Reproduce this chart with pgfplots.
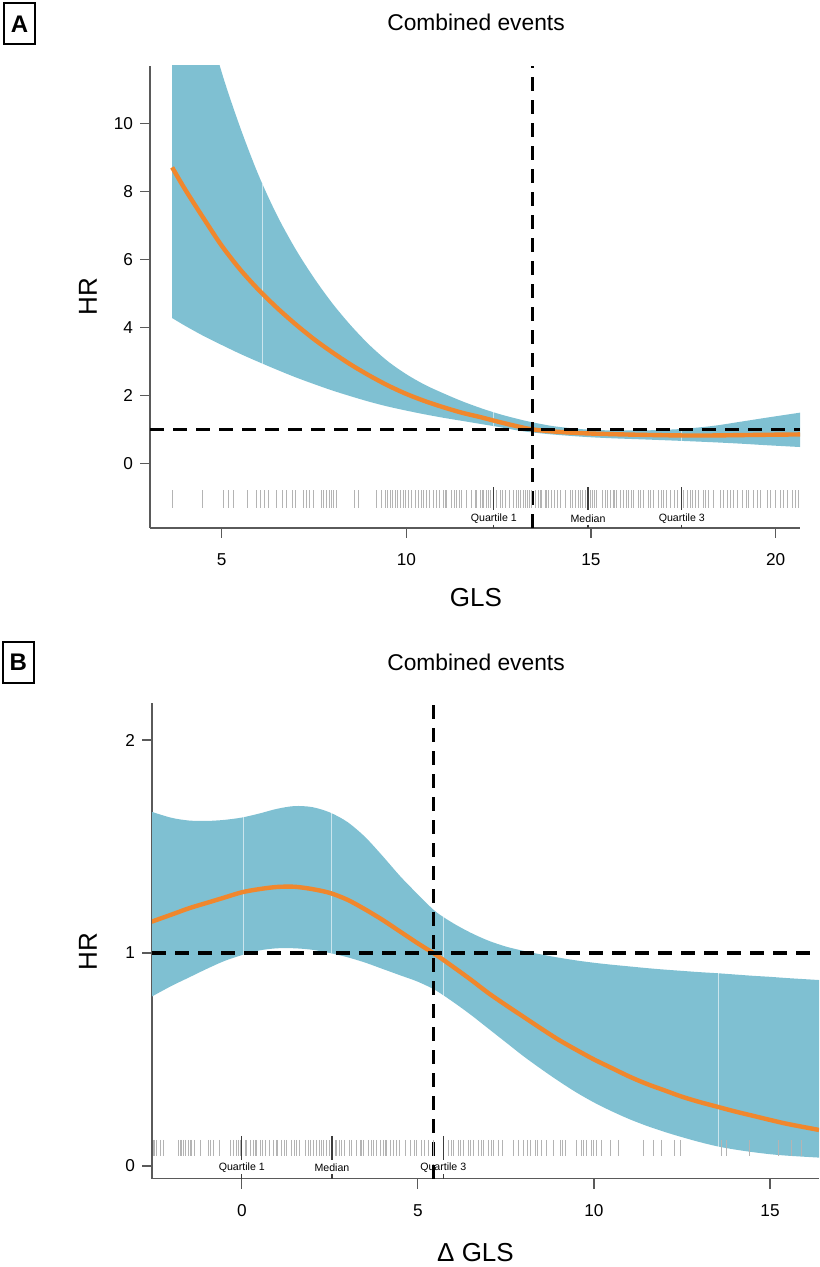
\documentclass[border=0pt]{standalone}
\usepackage{fontspec}
\setmainfont{Liberation Sans}
\usepackage{pgfplots}
\pgfplotsset{compat=1.18}
\usepackage{pgfplotstable}
\usepgfplotslibrary{fillbetween}

\definecolor{bandblue}{RGB}{127,192,210}
\definecolor{hrorange}{RGB}{240,135,45}
\definecolor{axgray}{RGB}{90,90,90}
\definecolor{ruggray}{RGB}{180,180,180}
\definecolor{qgray}{RGB}{60,60,60}

% panel A: estimate and 95% band
\pgfplotstableread{
x est lo hi
3.66 8.70 4.27 17.7
4.0 8.07 4.05 15.9
4.5 7.22 3.75 13.5
5.0 6.40 3.48 11.5
5.5 5.70 3.22 9.88
6.0 5.10 2.98 8.47
6.5 4.57 2.75 7.29
7.0 4.09 2.53 6.30
7.5 3.65 2.33 5.45
8.0 3.26 2.14 4.70
8.5 2.90 1.97 4.05
9.0 2.58 1.81 3.48
9.5 2.29 1.67 3.00
10.0 2.04 1.55 2.62
10.5 1.83 1.44 2.31
11.0 1.65 1.34 2.06
11.5 1.49 1.25 1.83
12.0 1.36 1.16 1.63
12.5 1.22 1.07 1.455
13.0 1.09 0.97 1.31
13.4 1.00 0.91 1.21
14.0 0.935 0.845 1.09
14.8 0.885 0.78 1.00
15.5 0.86 0.74 0.97
16.5 0.835 0.70 0.97
17.45 0.82 0.66 1.01
18.3 0.82 0.62 1.10
19.03 0.83 0.58 1.22
19.8 0.84 0.53 1.35
20.66 0.85 0.48 1.49
}\curveA

% panel B
\pgfplotstableread{
x est lo hi
-2.56 1.147 0.795 1.663
-2.0 1.18 0.845 1.635
-1.5 1.21 0.885 1.622
-1.0 1.235 0.925 1.620
-0.5 1.26 0.962 1.625
0.0 1.285 0.99 1.636
0.5 1.30 1.012 1.655
1.0 1.31 1.022 1.677
1.5 1.311 1.022 1.690
2.0 1.30 1.015 1.685
2.5 1.282 1.000 1.660
3.0 1.25 0.980 1.615
3.5 1.205 0.955 1.545
4.0 1.155 0.925 1.455
4.5 1.10 0.895 1.360
5.0 1.045 0.865 1.275
5.5 0.993 0.825 1.195
6.0 0.935 0.770 1.140
6.5 0.875 0.710 1.095
7.0 0.812 0.645 1.058
7.5 0.755 0.580 1.030
8.0 0.70 0.515 1.010
8.5 0.645 0.455 0.993
9.0 0.592 0.398 0.978
9.5 0.545 0.345 0.965
10.0 0.50 0.298 0.954
10.5 0.46 0.257 0.945
11.0 0.42 0.220 0.937
11.5 0.385 0.188 0.929
12.0 0.355 0.160 0.922
12.5 0.325 0.135 0.916
13.0 0.30 0.112 0.910
13.5 0.278 0.092 0.905
14.0 0.256 0.077 0.899
14.5 0.236 0.065 0.893
15.0 0.216 0.055 0.888
15.5 0.197 0.048 0.882
16.39 0.169 0.039 0.873
}\curveB

% rug of observed GLS values
\pgfplotstableread{
x
3.67
4.48
5.04
5.18
5.32
5.70
5.95
6.06
6.16
6.26
6.49
6.65
6.76
6.92
6.99
7.21
7.30
7.39
7.48
7.71
7.77
7.84
7.92
7.98
8.04
8.12
8.61
8.70
9.18
9.33
9.43
9.49
9.56
9.63
9.70
9.77
9.83
9.92
9.99
10.06
10.15
10.24
10.33
10.40
10.46
10.55
10.64
10.73
10.82
10.91
11.01
11.05
11.10
11.21
11.30
11.37
11.45
11.50
11.64
11.77
11.86
11.91
12.00
12.05
12.09
12.18
12.22
12.27
12.45
12.54
12.60
12.68
12.80
12.90
12.99
13.03
13.08
13.17
13.22
13.27
13.33
13.40
13.49
13.58
13.62
13.67
13.76
13.80
13.85
13.94
14.00
14.10
14.17
14.30
14.44
14.50
14.57
14.67
14.72
14.76
14.85
14.98
15.03
15.10
15.16
15.30
15.39
15.45
15.52
15.61
15.65
15.70
15.79
15.88
15.95
16.02
16.10
16.16
16.29
16.35
16.43
16.56
16.62
16.70
16.83
16.90
16.97
17.05
17.15
17.25
17.33
17.50
17.60
17.69
17.75
17.83
17.92
18.05
18.10
18.19
18.32
18.50
18.60
18.70
18.78
18.87
18.96
19.09
19.20
19.27
19.41
19.50
19.59
19.77
19.85
19.99
20.13
20.20
20.31
20.45
20.55
20.63
}\rugA

% rug of observed delta GLS values
\pgfplotstableread{
x
-2.51
-2.47
-2.41
-2.32
-2.22
-1.80
-1.75
-1.70
-1.65
-1.61
-1.52
-1.47
-1.42
-1.33
-1.18
-0.95
-0.90
-0.81
-0.62
-0.33
-0.24
-0.14
-0.10
-0.05
0.10
0.14
0.24
0.33
0.38
0.42
0.52
0.60
0.66
0.80
0.90
0.99
1.00
1.13
1.20
1.28
1.42
1.50
1.56
1.65
1.80
1.89
1.95
2.03
2.13
2.22
2.27
2.32
2.41
2.50
2.65
2.70
2.78
2.84
2.93
3.05
3.12
3.26
3.36
3.40
3.45
3.60
3.69
3.75
3.83
3.93
4.02
4.07
4.12
4.21
4.31
4.40
4.49
4.64
4.78
4.90
4.97
5.11
5.20
5.30
5.45
5.87
5.95
6.01
6.15
6.20
6.29
6.44
6.50
6.58
6.72
6.80
6.86
7.00
7.10
7.15
7.29
7.40
7.71
7.85
8.00
8.10
8.19
8.33
8.40
8.52
8.66
8.85
9.04
9.10
9.18
9.51
9.65
9.70
9.80
9.94
10.00
10.08
10.20
10.46
10.70
11.40
11.69
11.92
12.30
12.45
13.63
13.77
14.43
15.24
15.62
15.90
}\rugB

\pgfplotsset{
  rstyle/.style={
    scale only axis,
    axis x line*=bottom,
    axis y line*=left,
    axis line style={draw=axgray, line width=0.6pt, -},
    tick style={draw=axgray, line width=0.6pt},
    tick align=outside,
    major tick length=5pt,
    minor tick num=0,
    ticklabel style={font=\fontsize{8.6}{9}\selectfont},
    xticklabel style={yshift=-4.3pt},
    /pgf/number format/assume math mode=true,
    clip=true,
  },
  band/.style={fill=bandblue, draw=none},
  hrline/.style={hrorange, line width=2.2pt, smooth, no markers},
  refline/.style={black, line width=1.6pt, dash pattern=on 7pt off 4.5pt},
  rug/.style={only marks, mark=|, ruggray, mark options={line width=0.5pt}},
  quart/.style={qgray, line width=0.6pt},
  artif/.style={white, opacity=0.6, line width=0.5pt},
}
\tikzset{qlab/.style={font=\fontsize{5.3}{6}\selectfont}}

\begin{document}
\begin{tikzpicture}

% ---------- panel A ----------
\begin{axis}[rstyle,
  at={(75pt,369.5pt)}, anchor=south west,
  width=325pt, height=231pt,
  xmin=3.06, xmax=20.66, ymin=-1.9, ymax=11.68,
  xtick={5,10,15,20}, ytick={0,2,...,10},
  ]
  \addplot[name path=hiA, draw=none, smooth] table[x=x,y=hi] {\curveA};
  \addplot[name path=loA, draw=none, smooth] table[x=x,y=lo] {\curveA};
  \addplot[band] fill between[of=hiA and loA];
  \addplot[artif] coordinates {(6.11,2.93) (6.11,8.2)};
  \addplot[artif] coordinates {(12.35,1.10) (12.35,1.5)};
  \addplot[artif] coordinates {(17.45,0.66) (17.45,1.01)};
  \addplot[rug, mark size=4.5pt] table[x index=0, y index=0, y expr=-1.06] {\rugA};
  % quartiles
  \addplot[quart] coordinates {(12.37,-0.70) (12.37,-1.38)};
  \addplot[quart] coordinates {(14.92,-0.70) (14.92,-1.38)};
  \addplot[quart] coordinates {(17.46,-0.70) (17.46,-1.38)};
  \addplot[quart] coordinates {(12.37,-1.80) (12.37,-1.9)};
  \addplot[quart] coordinates {(14.92,-1.80) (14.92,-1.9)};
  \addplot[quart] coordinates {(17.46,-1.80) (17.46,-1.9)};
  \node[qlab] at (axis cs:12.37,-1.63) {Quartile 1};
  \node[qlab] at (axis cs:14.92,-1.63) {Median};
  \node[qlab] at (axis cs:17.46,-1.63) {Quartile 3};
  \addplot[hrline] table[x=x,y=est] {\curveA};
  \addplot[refline] coordinates {(3.06,1) (20.66,1)};
  \addplot[refline] coordinates {(13.41,-1.9) (13.41,11.68)};
\end{axis}

% ---------- panel B ----------
\begin{axis}[rstyle,
  at={(76pt,44.15pt)}, anchor=south west,
  width=333.5pt, height=237.85pt,
  xmin=-2.55, xmax=16.39, ymin=-0.06, ymax=2.174,
  xtick={0,5,10,15}, ytick={0,1,2},
  ]
  \addplot[name path=hiB, draw=none, smooth] table[x=x,y=hi] {\curveB};
  \addplot[name path=loB, draw=none, smooth] table[x=x,y=lo] {\curveB};
  \addplot[band] fill between[of=hiB and loB];
  \addplot[artif] coordinates {(0.05,0.99) (0.05,1.637)};
  \addplot[artif] coordinates {(2.56,0.999) (2.56,1.656)};
  \addplot[artif] coordinates {(5.72,0.80) (5.72,1.17)};
  \addplot[artif] coordinates {(13.53,0.09) (13.53,0.905)};
  \addplot[rug, mark size=4pt] table[x index=0, y index=0, y expr=0.0845] {\rugB};
  \addplot[quart] coordinates {(0.0,0.141) (0.0,0.028)};
  \addplot[quart] coordinates {(2.56,0.141) (2.56,0.028)};
  \addplot[quart] coordinates {(5.72,0.141) (5.72,0.028)};
  \addplot[quart] coordinates {(0.0,-0.04) (0.0,-0.06)};
  \addplot[quart] coordinates {(2.56,-0.04) (2.56,-0.06)};
  \addplot[quart] coordinates {(5.72,-0.04) (5.72,-0.06)};
  \node[qlab] at (axis cs:0.0,-0.01) {Quartile 1};
  \node[qlab] at (axis cs:2.56,-0.01) {Median};
  \node[qlab] at (axis cs:5.72,-0.01) {Quartile 3};
  \addplot[hrline] table[x=x,y=est] {\curveB};
  \addplot[refline] coordinates {(-2.55,1) (16.39,1)};
  \addplot[refline] coordinates {(5.45,-0.06) (5.45,2.174)};
\end{axis}

% titles, panel letters, axis labels
\node[font=\fontsize{11.4}{13}\selectfont] at (238pt,622.5pt) {Combined events};
\node[font=\fontsize{11.4}{13}\selectfont] at (238pt,302.5pt) {Combined events};
\node[draw, line width=1pt, minimum width=15.5pt, minimum height=20.5pt, inner sep=0pt,
  font=\bfseries\fontsize{12}{12}\selectfont] at (9.75pt,621.6pt) {A};
\node[draw, line width=1pt, minimum width=15.5pt, minimum height=20.5pt, inner sep=0pt,
  font=\bfseries\fontsize{12}{12}\selectfont] at (9.15pt,302.4pt) {B};
\node[rotate=90, font=\fontsize{13}{15}\selectfont] at (44pt,485pt) {HR};
\node[rotate=90, font=\fontsize{13}{15}\selectfont] at (44pt,157.5pt) {HR};
\node[font=\fontsize{13}{15}\selectfont] at (238pt,334.75pt) {GLS};
\node[font=\fontsize{13}{15}\selectfont] at (237.75pt,7pt) {Δ GLS};

\pgfresetboundingbox
\path[use as bounding box] (0,0) rectangle (409.5pt,633.5pt);
\end{tikzpicture}
\end{document}
